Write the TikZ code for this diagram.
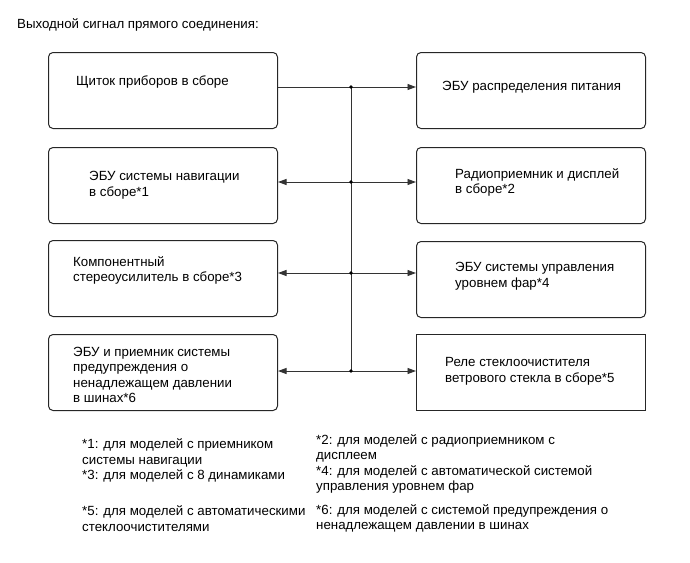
\documentclass[tikz,border=0pt]{standalone}
\usepackage{fontspec}
\setmainfont{Liberation Sans}
\usetikzlibrary{arrows.meta}
\begin{document}
\begin{tikzpicture}[x=1pt,y=-1pt,
  box/.style={draw=black!85, line width=1pt, rounded corners=4.5pt, minimum width=229pt, minimum height=76pt, inner sep=0pt, anchor=north west},
  sqbox/.style={box, rounded corners=0pt},
  lbl/.style={anchor=west, align=left, inner sep=0pt, font=\fontsize{13.3}{15.6}\selectfont},
  note/.style={lbl},
  wire/.style={draw=black!80, line width=0.9pt},
  tip/.tip={Triangle[length=8.5pt,width=6pt]},
  dot/.style={fill=black, radius=1.9pt}
]
\useasboundingbox (0,0) rectangle (690,562);
\node[lbl] (title) at (17,25) {Выходной сигнал прямого соединения:};

% left boxes
\node[box] (L1) at (48,52) {};
\node[box] (L2) at (48,147) {};
\node[box] (L3) at (48,240) {};
\node[box] (L4) at (48,334) {};
% right boxes
\node[box] (R1) at (416,52) {};
\node[box] (R2) at (416,147) {};
\node[box] (R3) at (416,241) {};
\node[sqbox] (R4) at (416,334) {};

% texts
\node[lbl] (tL1) at (76,82) {Щиток приборов в сборе};
\node[lbl] (tL2) at (89,185.5) {ЭБУ системы навигации\\в сборе*1};
\node[lbl] (tL3) at (73,270.5) {Компонентный\\стереоусилитель в сборе*3};
\node[lbl] (tL4) at (73,375) {ЭБУ и приемник системы\\предупреждения о\\ненадлежащем давлении\\в шинах*6};
\node[lbl] (tR1) at (442,87) {ЭБУ распределения питания};
\node[lbl] (tR2) at (455,182.5) {Радиоприемник и дисплей\\в сборе*2};
\node[lbl] (tR3) at (455,276) {ЭБУ системы управления\\уровнем фар*4};
\node[lbl] (tR4) at (445,371) {Реле стеклоочистителя\\ветрового стекла в сборе*5};

% bus
\coordinate (j1) at (351,87);
\coordinate (j2) at (351,182);
\coordinate (j3) at (351,273);
\coordinate (j4) at (351,371);
\draw[wire] (j1) -- (j4);
\draw[wire] (j1 -| L1.east) -- (j1);
\draw[wire, -tip] (j1) -- (j1 -| R1.west);
\draw[wire, tip-tip] (j2 -| L2.east) -- (j2 -| R2.west);
\draw[wire, tip-tip] (j3 -| L3.east) -- (j3 -| R3.west);
\draw[wire, tip-tip] (j4 -| L4.east) -- (j4 -| R4.west);
\fill[dot] (j1) circle;
\fill[dot] (j2) circle;
\fill[dot] (j3) circle;
\fill[dot] (j4) circle;

% footnotes
\node[note] (n1) at (82,460.5) {*1: для моделей с приемником\\системы навигации\\*3: для моделей с 8 динамиками};
\node[note] (n2) at (316,464) {*2: для моделей с радиоприемником с\\дисплеем\\*4: для моделей с автоматической системой\\управления уровнем фар};
\node[note] (n3) at (82,518.5) {*5: для моделей с автоматическими\\стеклоочистителями};
\node[note] (n4) at (316,518.5) {*6: для моделей с системой предупреждения о\\ненадлежащем давлении в шинах};
\end{tikzpicture}
\end{document}
